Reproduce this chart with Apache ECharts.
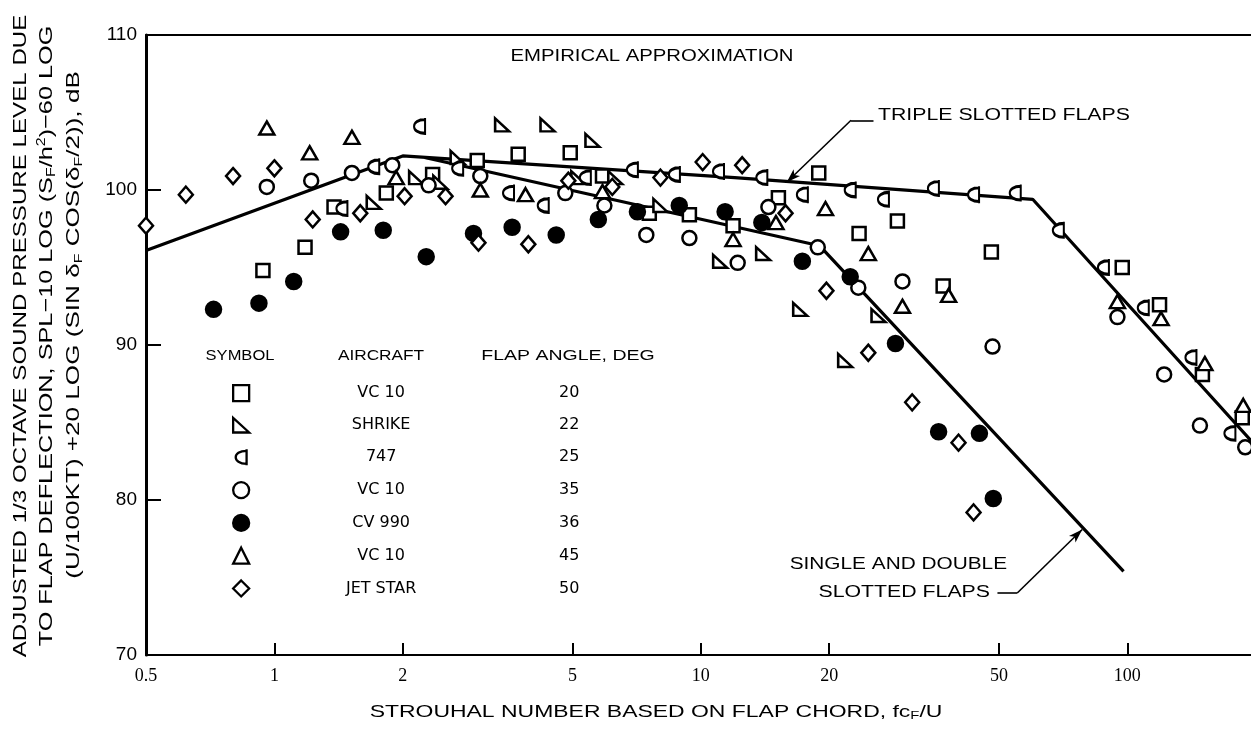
<!DOCTYPE html>
<html><head><meta charset="utf-8">
<script src="https://cdn.jsdelivr.net/npm/echarts@6/dist/echarts.min.js"></script>
<style>html,body{margin:0;padding:0;background:#fff}#c{width:1251px;height:734px}</style>
</head><body><div id="c"></div>
<script>
// ---- axis ticks ----
const xTicks = [0.5, 1, 2, 5, 10, 20, 50, 100];
const yTicks = [70, 80, 90, 100, 110];
const xMinRaw = 0.5, xMaxRaw = 195;

// ---- legend / series names: aircraft | flap angle ----
const seriesNames = ['VC 10|20', 'SHRIKE|22', '747|25', 'VC 10 |35', 'CV 990|36', 'VC 10  |45', 'JET STAR|50'];

// ---- data: [Strouhal number, adjusted SPL dB] ----
const vc10_20 = [[0.94,94.8],[1.18,96.3],[1.38,98.9],[1.83,99.8],[2.35,101.0],[2.99,101.9],[3.73,102.3],[4.94,102.4],[5.88,100.9],[7.57,98.5],[9.40,98.4],[11.9,97.7],[15.2,99.5],[18.9,101.1],[23.5,97.2],[28.9,98.0],[37.0,93.8],[48.0,96.0],[97.3,95.0],[119,92.6],[150,88.1],[186,85.3]];
const shrike_22 = [[1.71,99.2],[2.15,100.8],[2.45,100.5],[2.69,102.1],[3.42,104.2],[4.37,104.2],[5.57,103.2],[5.16,100.8],[6.30,100.8],[8.04,99.0],[11.1,95.4],[14.0,95.9],[17.1,92.3],[21.8,89.0],[26.1,91.9]];
const b747_25 = [[1.44,98.8],[1.71,101.5],[2.19,104.1],[2.69,101.4],[3.54,99.8],[4.27,99.0],[5.36,100.8],[6.91,101.3],[8.67,101.0],[11.0,101.2],[13.9,100.8],[17.3,99.7],[22.4,100.0],[26.8,99.4],[35.1,100.1],[43.6,99.7],[54.6,99.8],[68.9,97.4],[87.9,95.0],[109,92.4],[141,89.2],[174,84.3]];
const vc10_35 = [[0.96,100.2],[1.22,100.6],[1.52,101.1],[1.89,101.6],[2.30,100.3],[3.04,100.9],[4.81,99.8],[5.94,99.0],[7.45,97.1],[9.40,96.9],[12.2,95.3],[14.4,98.9],[18.8,96.3],[23.4,93.7],[29.7,94.1],[48.3,89.9],[94.8,91.8],[122,88.1],[148,84.8],[189,83.4]];
const cv990_36 = [[0.72,92.3],[0.92,92.7],[1.11,94.1],[1.43,97.3],[1.80,97.4],[2.27,95.7],[2.93,97.2],[3.61,97.6],[4.58,97.1],[5.75,98.1],[7.10,98.6],[8.90,99.0],[11.4,98.6],[13.9,97.9],[17.3,95.4],[22.4,94.4],[28.6,90.1],[36.1,84.4],[45.0,84.3],[48.5,80.1]];
const vc10_45 = [[0.96,104.0],[1.21,102.4],[1.52,103.4],[1.93,100.8],[3.04,100.0],[3.88,99.7],[5.88,99.9],[11.9,96.8],[15.0,97.9],[19.6,98.8],[24.7,95.9],[29.7,92.5],[38.1,93.2],[94.8,92.8],[120,91.7],[152,88.8],[187,86.1]];
const jetstar_50 = [[0.5,97.7],[0.62,99.7],[0.80,100.9],[1.0,101.4],[1.23,98.1],[1.59,98.5],[2.02,99.6],[2.52,99.6],[3.01,96.6],[3.94,96.5],[4.89,100.6],[6.20,100.2],[8.04,100.8],[10.1,101.8],[12.5,101.6],[15.8,98.5],[19.7,93.5],[24.7,89.5],[31.3,86.3],[40.2,83.7],[43.6,79.2]];

// ---- empirical approximation lines ----
const tripleLine = [[0.5,96.1],[2.0,102.2],[12,100.8],[60,99.4],[200,83.5]];
const singleDoubleLine = [[2.25,102.1],[19,96.4],[98,75.4]];

// ---- annotation leader lines (data coords) ----
const tripleLeader = {from:[25.4,104.5], knee:[22.5,104.5], tip:[15.9,100.5]};
const singleLeader = {from:[49.6,74.0], knee:[55.2,74.0], tip:[78.4,78.1]};

const L = v => Math.log10(v);
const tx = arr => arr.map(p => [L(p[0]), p[1]]);
const FONT = '"Liberation Sans", Arial, sans-serif';
const WIDE = '"DejaVu Sans", "Liberation Sans", sans-serif';
const SERIF = '"Liberation Serif", "Times New Roman", serif';

const symbols = [
  {symbol:'rect', size:13, fill:'#fff'},
  {symbol:'path://M0,0 L0,10 L11,10 Z', size:[14,13], fill:'#fff'},
  {symbol:'path://M8,0 L8,16 M8,1.5 C-2.5,1.5 -2.5,14.5 8,14.5 Z', size:[11,17], fill:'#fff',
   legendIcon:'path://M11,0 L11,16 M11,1.5 C-3.5,1.5 -3.5,14.5 11,14.5 Z'},
  {symbol:'circle', size:14, fill:'#fff'},
  {symbol:'circle', size:15, fill:'#000'},
  {symbol:'triangle', size:[15,13], fill:'#fff'},
  {symbol:'diamond', size:[14,16], fill:'#fff'}
];
const dataSets = [vc10_20, shrike_22, b747_25, vc10_35, cv990_36, vc10_45, jetstar_50];

const scatterSeries = dataSets.map((d, i) => ({
  type:'scatter', name: seriesNames[i], data: tx(d), clip:false, z:5,
  symbol: symbols[i].symbol, symbolSize: symbols[i].size,
  itemStyle:{color: symbols[i].fill, borderColor:'#000', borderWidth:2.5, opacity:1},
  emphasis:{disabled:true}
}));

const leaderLine = (ld) => ([
  [{coord:[L(ld.from[0]), ld.from[1]], symbol:'none'}, {coord:[L(ld.knee[0]), ld.knee[1]], symbol:'none'}],
  [{coord:[L(ld.knee[0]), ld.knee[1]], symbol:'none'}, {coord:[L(ld.tip[0]), ld.tip[1]], symbol:'arrow', symbolSize:[7,14]}]
]);

const txt = (x, y, text, o) => ({
  type:'text', x:x, y:y, rotation:(o.rot||0), scaleX:(o.sx||1), scaleY:1,
  style:{text:text, font:(o.size||16) + 'px ' + (o.family||FONT), fill:'#000',
    textAlign:o.align||'center', align:o.align||'center', textVerticalAlign:'middle', verticalAlign:'middle', rich:o.rich}
});

const option = {
  animation:false,
  backgroundColor:'#fff',
  grid:{left:146, right:0, top:35, bottom:79, containLabel:false},
  xAxis:[{
    type:'value', min:L(xMinRaw), max:L(xMaxRaw),
    axisLine:{show:true, onZero:false, lineStyle:{color:'#000', width:2}},
    axisTick:{show:true, inside:true, length:12, customValues: xTicks.map(L), lineStyle:{color:'#000', width:2}},
    axisLabel:{customValues: xTicks.map(L), showMinLabel:true, color:'#000', fontFamily:SERIF, fontSize:18, margin:12,
      formatter: v => { const r = Math.pow(10, v); return r < 1 ? r.toFixed(1) : String(Math.round(r)); }},
    splitLine:{show:false}
  },{
    type:'value', position:'top', min:L(xMinRaw), max:L(xMaxRaw),
    axisLine:{show:true, onZero:false, lineStyle:{color:'#000', width:2}},
    axisTick:{show:false}, axisLabel:{show:false}, splitLine:{show:false}
  }],
  yAxis:{
    type:'value', min:yTicks[0], max:yTicks[yTicks.length-1], interval:10,
    axisLine:{show:true, onZero:false, lineStyle:{color:'#000', width:3}},
    axisTick:{show:true, inside:true, length:15, lineStyle:{color:'#000', width:2}},
    axisLabel:{color:'#000', fontFamily:FONT, fontSize:19, margin:9},
    splitLine:{show:false}
  },
  legend:{
    orient:'vertical', left:227, top:379, itemWidth:16, itemHeight:16, itemGap:14.5,
    selectedMode:false,
    data: seriesNames.map((n,i) => {
      const it = {name:n, itemStyle:{color:symbols[i].fill, borderColor:'#000', borderWidth:2.3}};
      if (symbols[i].legendIcon) it.icon = symbols[i].legendIcon;
      return it;
    }),
    formatter: n => { const p = n.split('|'); return '{a|' + p[0].trim() + '}{b|' + p[1] + '}'; },
    textStyle:{color:'#000', fontFamily:WIDE, fontSize:16,
      rich:{a:{width:254, align:'center', fontFamily:WIDE, fontSize:16, color:'#000'},
            b:{width:122, align:'center', fontFamily:WIDE, fontSize:16, color:'#000'}}}
  },
  series:[
    {type:'line', name:'triple', data:tx(tripleLine), showSymbol:false, symbol:'none', z:2,
     lineStyle:{color:'#000', width:3.2}, emphasis:{disabled:true},
     markLine:{silent:true, animation:false, label:{show:false}, lineStyle:{color:'#000', width:1.6, type:'solid'},
       symbol:['none','none'], data: leaderLine(tripleLeader)}},
    {type:'line', name:'single', data:tx(singleDoubleLine), showSymbol:false, symbol:'none', z:2,
     lineStyle:{color:'#000', width:3.2}, emphasis:{disabled:true},
     markLine:{silent:true, animation:false, label:{show:false}, lineStyle:{color:'#000', width:1.6, type:'solid'},
       symbol:['none','none'], data: leaderLine(singleLeader)}},
    ...scatterSeries
  ],
  graphic:[
    txt(652, 57, 'EMPIRICAL APPROXIMATION', {size:16, sx:1.27}),
    txt(878, 116, 'TRIPLE SLOTTED FLAPS', {size:16, sx:1.33, align:'left'}),
    txt(1007, 565, 'SINGLE AND DOUBLE', {size:16, sx:1.3, align:'right'}),
    txt(990, 593, 'SLOTTED FLAPS', {size:16, sx:1.33, align:'right'}),
    txt(240, 356, 'SYMBOL', {size:15, sx:1.1}),
    txt(381, 356, 'AIRCRAFT', {size:15, sx:1.15}),
    txt(568, 356, 'FLAP ANGLE, DEG', {size:15, sx:1.3}),
    txt(656, 712, 'STROUHAL NUMBER BASED ON FLAP CHORD, fc{sub|F}/U', {size:17, sx:1.35,
      rich:{sub:{fontSize:11, fontFamily:FONT, padding:[8,0,0,0]}}}),
    txt(21, 336, 'ADJUSTED 1/3 OCTAVE SOUND PRESSURE LEVEL DUE', {size:19, sx:1.27, rot:Math.PI/2}),
    txt(47, 336, 'TO FLAP DEFLECTION, SPL\u221210 LOG (S{sub|F}/h{sup|2})\u221260 LOG', {size:19, sx:1.33, rot:Math.PI/2,
      rich:{sub:{fontSize:12, fontFamily:FONT, padding:[10,0,0,0]}, sup:{fontSize:12, fontFamily:FONT, padding:[0,0,10,0]}}}),
    txt(74, 325, '(U/100KT) +20 LOG (SIN \u03b4{sub|F} COS(\u03b4{sub|F}/2)), dB', {size:18, sx:1.45, rot:Math.PI/2,
      rich:{sub:{fontSize:11, fontFamily:FONT, padding:[9,0,0,0]}}})
  ]
};
const chart = echarts.init(document.getElementById('c'), null, {renderer:'canvas'});
chart.setOption(option);
</script>
</body></html>
